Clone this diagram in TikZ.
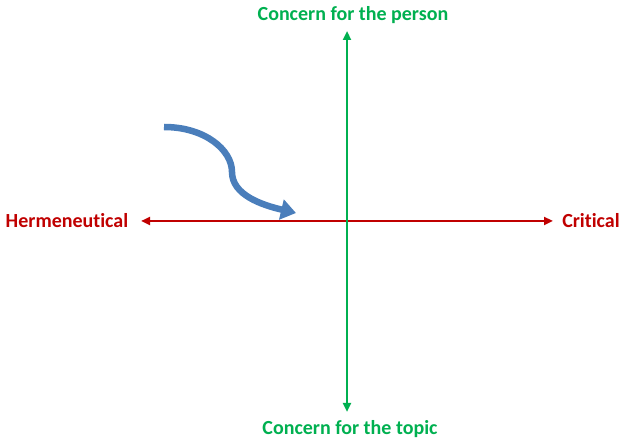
\documentclass[tikz,border=0pt]{standalone}
\usepackage{fontspec}
\setmainfont[Ligatures=NoCommon]{Carlito}
\usetikzlibrary{arrows.meta}
\definecolor{axred}{HTML}{C00000}
\definecolor{axgreen}{HTML}{00B050}
\definecolor{axblue}{HTML}{4A7EBB}
\begin{document}
\begin{tikzpicture}[x=1pt,y=-1pt,
  lbl/.style={font=\bfseries\fontsize{20}{22}\selectfont, inner sep=0pt},
  redaxis/.style={draw=axred, line width=2.6pt, {Triangle[length=9pt,width=8pt]}-{Triangle[length=9pt,width=8pt]}},
  greenaxis/.style={draw=axgreen, line width=2.4pt, {Triangle[length=9pt,width=8pt]}-{Triangle[length=9pt,width=8pt]}},
  bluearrow/.style={draw=axblue, line width=6.5pt, -{Triangle[length=15pt,width=20pt]}}]
\useasboundingbox (0,0) rectangle (622,438);
\node[lbl, text=axred] (herm) at (67,221) {Hermeneutical};
\node[lbl, text=axred] (crit) at (591,221) {Critical};
\node[lbl, text=axgreen] (person) at (353,15) {Concern for the person};
\node[lbl, text=axgreen] (topic) at (350,429) {Concern for the topic};
\coordinate (hl) at (141,221);
\coordinate (hr) at (553,221);
\coordinate (vt) at (347,31);
\coordinate (vb) at (347,412);
\coordinate (bs) at (164,127);
\coordinate (bm) at (232,172);
\coordinate (be) at (296,213);
\draw[redaxis] (hl) -- (hr);
\draw[greenaxis] (vb) -- (vt);
\draw[bluearrow] (bs) .. controls (205,127) and (232,150) .. (bm) .. controls (232,195) and (262,205) .. (be);
\end{tikzpicture}
\end{document}
